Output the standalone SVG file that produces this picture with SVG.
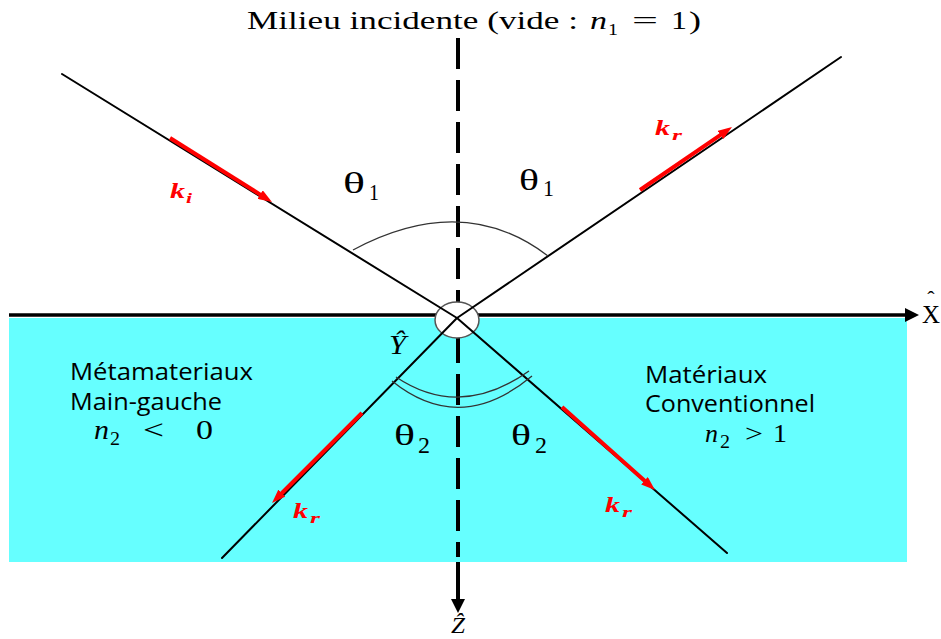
<svg xmlns="http://www.w3.org/2000/svg" width="941" height="639" viewBox="0 0 941 639">
<defs>
<style>
.ray{stroke:#000;stroke-width:2;fill:none;stroke-linecap:round}
.arc{stroke:#333;stroke-width:1.3;fill:none}
.vec{stroke:#ff0000;stroke-width:4;fill:none}
.serif{font-family:"Liberation Serif","Times New Roman",serif;fill:#000}
.it{font-style:italic}
.sans{font-family:"Open Sans","Liberation Sans",sans-serif;fill:#000;font-size:23px}
.kl{font-family:"Liberation Serif","Times New Roman",serif;font-style:italic;font-weight:bold;fill:#ff0000}
.th{font-family:"Liberation Serif","Times New Roman",serif;fill:#000;font-size:30px}
</style>
<marker id="redhead" viewBox="0 0 14 10" refX="2" refY="5" markerWidth="14" markerHeight="10" markerUnits="userSpaceOnUse" orient="auto">
<path d="M0,0 L14,5 L0,10 z" fill="#ff0000"/>
</marker>
</defs>
<rect width="941" height="639" fill="#ffffff"/>

<g id="medium2">
<rect x="9" y="318" width="898" height="244" fill="#66ffff"/>
</g>

<g id="axes">
<line x1="9" y1="315" x2="906" y2="315" stroke="#000" stroke-width="3.5"/>
<polygon points="905,308 919,315 905,322" fill="#000"/>
<line x1="458" y1="38" x2="458" y2="557" stroke="#000" stroke-width="4" stroke-dasharray="31 11"/>
<line x1="458" y1="562" x2="458" y2="601" stroke="#000" stroke-width="4"/>
<polygon points="451,599 465,599 458,613" fill="#000"/>
</g>

<g id="origin">
<ellipse cx="457" cy="320" rx="22" ry="18" fill="#ffffff" stroke="#555" stroke-width="1.5"/>
</g>

<g id="connectors">
<line class="ray" x1="62" y1="74" x2="457" y2="318"/>
<line class="ray" x1="457" y1="318" x2="841" y2="57"/>
<line class="ray" x1="457" y1="318" x2="727" y2="553"/>
<line class="ray" x1="457" y1="318" x2="222" y2="558"/>
<path class="arc" d="M353,250 Q463,191 548,256"/>
<path class="arc" d="M392,381 Q460,436 532,376"/>
<path class="arc" d="M396,377 Q460,420 529,371"/>
</g>

<g id="vectors">
<line class="vec" x1="170" y1="138" x2="261.8" y2="195.6" marker-end="url(#redhead)"/>
<line class="vec" x1="640" y1="190" x2="722.1" y2="133.8" marker-end="url(#redhead)"/>
<line class="vec" x1="562" y1="407" x2="646" y2="482" marker-end="url(#redhead)"/>
<line class="vec" x1="362" y1="413" x2="280.5" y2="494.5" marker-end="url(#redhead)"/>
</g>

<g id="title">
<text class="serif" x="247" y="29" font-size="25" textLength="331" lengthAdjust="spacingAndGlyphs">Milieu incidente (vide :</text>
<text class="serif it" x="590" y="29" font-size="25" textLength="17" lengthAdjust="spacingAndGlyphs">n</text>
<text class="serif" x="608" y="35" font-size="17" textLength="10" lengthAdjust="spacingAndGlyphs">1</text>
<text class="serif" x="632" y="29" font-size="25" textLength="26" lengthAdjust="spacingAndGlyphs">=</text>
<text class="serif" x="671" y="29" font-size="25" textLength="16" lengthAdjust="spacingAndGlyphs">1</text>
<text class="serif" x="689" y="29" font-size="25" textLength="12" lengthAdjust="spacingAndGlyphs">)</text>
</g>

<g id="angles">
<text class="th" x="343" y="193" textLength="22" lengthAdjust="spacingAndGlyphs">θ</text>
<text class="serif" x="369" y="200" font-size="23" textLength="10" lengthAdjust="spacingAndGlyphs">1</text>
<text class="th" x="519" y="190" textLength="20" lengthAdjust="spacingAndGlyphs">θ</text>
<text class="serif" x="543" y="196" font-size="23" textLength="11" lengthAdjust="spacingAndGlyphs">1</text>
<text class="th" x="394" y="445" textLength="21" lengthAdjust="spacingAndGlyphs">θ</text>
<text class="serif" x="418" y="453" font-size="23" textLength="12" lengthAdjust="spacingAndGlyphs">2</text>
<text class="th" x="511" y="445" textLength="20" lengthAdjust="spacingAndGlyphs">θ</text>
<text class="serif" x="535" y="453" font-size="23" textLength="12" lengthAdjust="spacingAndGlyphs">2</text>
</g>

<g id="vector-labels">
<text class="kl" x="170" y="198" font-size="22" textLength="15" lengthAdjust="spacingAndGlyphs">k</text>
<text class="kl" x="186" y="203" font-size="15" textLength="6" lengthAdjust="spacingAndGlyphs">i</text>
<text class="kl" x="655" y="135" font-size="22" textLength="15" lengthAdjust="spacingAndGlyphs">k</text>
<text class="kl" x="672" y="140" font-size="15" textLength="10" lengthAdjust="spacingAndGlyphs">r</text>
<text class="kl" x="605" y="512" font-size="22" textLength="15" lengthAdjust="spacingAndGlyphs">k</text>
<text class="kl" x="622" y="517" font-size="15" textLength="10" lengthAdjust="spacingAndGlyphs">r</text>
<text class="kl" x="293" y="518" font-size="22" textLength="15" lengthAdjust="spacingAndGlyphs">k</text>
<text class="kl" x="310" y="523" font-size="15" textLength="10" lengthAdjust="spacingAndGlyphs">r</text>
</g>

<g id="axis-labels">
<text class="serif" x="922" y="323" font-size="26" textLength="18" lengthAdjust="spacingAndGlyphs">X</text>
<text class="serif" x="931" y="306" font-size="22" text-anchor="middle">ˆ</text>
<text class="serif it" x="389" y="354" font-size="28" textLength="17" lengthAdjust="spacingAndGlyphs">Ŷ</text>
<text class="serif it" x="451" y="633" font-size="23" textLength="14" lengthAdjust="spacingAndGlyphs">Ẑ</text>
</g>

<g id="left-medium">
<text class="sans" x="70" y="380" textLength="183" lengthAdjust="spacingAndGlyphs">Métamateriaux</text>
<text class="sans" x="70" y="410" textLength="152" lengthAdjust="spacingAndGlyphs">Main-gauche</text>
<text class="serif it" x="94" y="439" font-size="27" textLength="15" lengthAdjust="spacingAndGlyphs">n</text>
<text class="serif" x="110" y="445" font-size="18" textLength="10" lengthAdjust="spacingAndGlyphs">2</text>
<text class="serif" x="143" y="439" font-size="27" textLength="21" lengthAdjust="spacingAndGlyphs">&lt;</text>
<text class="serif" x="196" y="439" font-size="27" textLength="17" lengthAdjust="spacingAndGlyphs">0</text>
</g>

<g id="right-medium">
<text class="sans" x="645" y="383" textLength="122" lengthAdjust="spacingAndGlyphs">Matériaux</text>
<text class="sans" x="645" y="412" textLength="170" lengthAdjust="spacingAndGlyphs">Conventionnel</text>
<text class="serif it" x="705" y="442" font-size="26" textLength="13" lengthAdjust="spacingAndGlyphs">n</text>
<text class="serif" x="720" y="448" font-size="18" textLength="10" lengthAdjust="spacingAndGlyphs">2</text>
<text class="serif" x="745" y="442" font-size="26" textLength="18" lengthAdjust="spacingAndGlyphs">&gt;</text>
<text class="serif" x="773" y="442" font-size="26" textLength="14" lengthAdjust="spacingAndGlyphs">1</text>
</g>
</svg>
